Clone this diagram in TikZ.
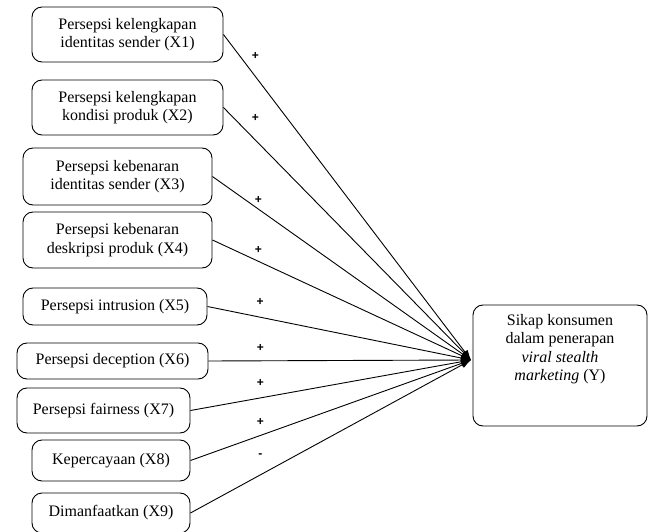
\documentclass[tikz,border=0pt]{standalone}
\usepackage{fontspec}
\setmainfont{Liberation Serif}
\newfontfamily\signfont{Liberation Sans}
\usetikzlibrary{arrows.meta}

\begin{document}
\begin{tikzpicture}[x=1pt,y=-1pt]
		\tikzset{vertex/.style = {shape=rectangle,draw,rounded corners=10pt,line width=0.9pt,align=center,inner sep=2pt,font=\fontsize{16}{18.5}\selectfont}}
		\tikzset{edge/.style = {->,> = {Latex[length=10pt,width=7pt]},line width=0.9pt}}
		\tikzset{sign/.style = {font=\signfont\bfseries\fontsize{12}{14}\selectfont,inner sep=0pt}}
		\useasboundingbox (0,0) rectangle (651,532);
		\node[vertex,minimum width=191pt,minimum height=55pt] (x1) at (127.5,34.5) {Persepsi kelengkapan\\identitas sender (X1)};
		\node[vertex,minimum width=191pt,minimum height=55pt] (x2) at (127.5,107.5) {Persepsi kelengkapan\\kondisi produk (X2)};
		\node[vertex,minimum width=189pt,minimum height=57pt] (x3) at (117.5,176.5) {Persepsi kebenaran\\identitas sender (X3)};
		\node[vertex,minimum width=189pt,minimum height=56pt] (x4) at (117.5,240) {Persepsi kebenaran\\deskripsi produk (X4)};
		\node[vertex,minimum width=184pt,minimum height=37pt] (x5) at (115,306.5) {Persepsi intrusion (X5)};
		\node[vertex,minimum width=191pt,minimum height=36pt] (x6) at (112.5,361) {Persepsi deception (X6)};
		\node[vertex,minimum width=173pt,minimum height=45pt] (x7) at (103.5,410.5) {Persepsi fairness (X7)};
		\node[vertex,minimum width=158pt,minimum height=41pt] (x8) at (111,460.5) {Kepercayaan (X8)};
		\node[vertex,minimum width=158pt,minimum height=40pt] (x9) at (111,513) {Dimanfaatkan (X9)};
		\node[vertex,minimum width=174pt,minimum height=121pt] (y) at (560,365.5) {Sikap konsumen\\dalam penerapan\\\textit{viral stealth}\\\textit{marketing} (Y)\\[18pt]};
		\coordinate (tip) at (471,360);
		\draw[edge] (x1.east) -- node[sign,pos=.129,yshift=20.5pt] {+} (tip);
		\draw[edge] (x2.east) -- node[sign,pos=.129,yshift=22pt] {+} (tip);
		\draw[edge] (x3.east) -- node[sign,pos=.178,yshift=9pt] {+} (tip);
		\draw[edge] (x4.east) -- node[sign,pos=.178,yshift=11pt] {+} (tip);
		\draw[edge] (x5.east) -- node[sign,pos=.2,yshift=15pt] {+} (tip);
		\draw[edge] (x6.east) -- node[sign,pos=.198,yshift=13pt] {+} (tip);
		\draw[edge] (x7.east) -- node[sign,pos=.249,yshift=14.5pt] {+} (tip);
		\draw[edge] (x8.east) -- node[sign,pos=.249,yshift=13pt] {+} (tip);
		\draw[edge] (x9.east) -- node[sign,pos=.249,yshift=19pt] {-} (tip);
	\end{tikzpicture}
\end{document}
